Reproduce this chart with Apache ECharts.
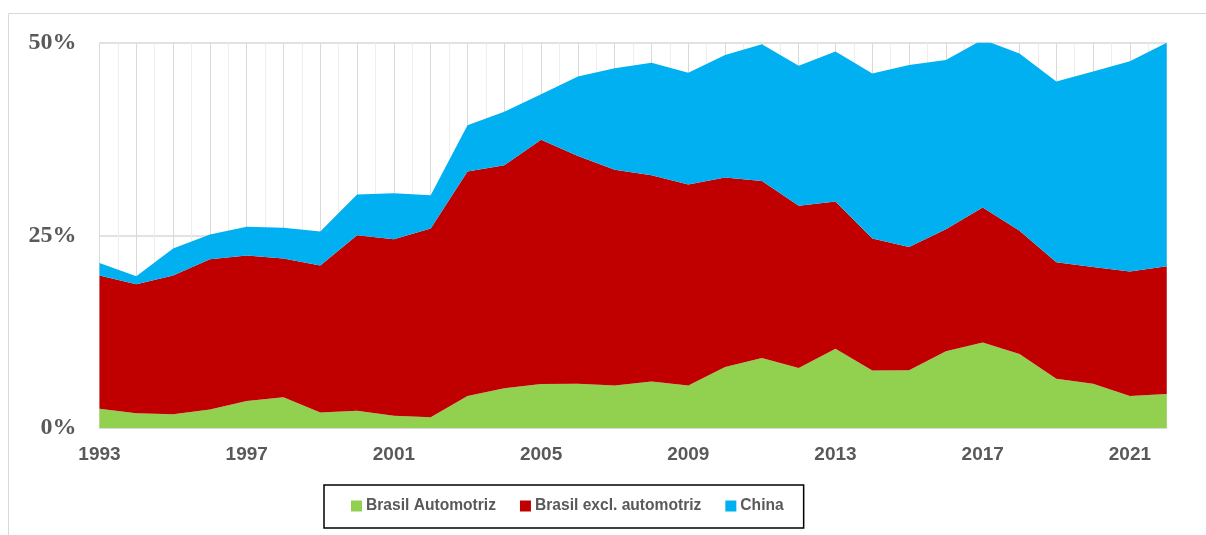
<!DOCTYPE html>
<html>
<head>
<meta charset="utf-8">
<script src="https://cdn.jsdelivr.net/npm/echarts@6/dist/echarts.min.js"></script>
<style>
    html, body { margin: 0; padding: 0; background: #fff; }
</style>
</head>
<body>
<div id="chart" style="width: 1206px; height: 535px"></div>
<script>

// años
const years = ['1993','1994','1995','1996','1997','1998','1999','2000','2001','2002',
    '2003','2004','2005','2006','2007','2008','2009','2010','2011','2012',
    '2013','2014','2015','2016','2017','2018','2019','2020','2021','2022'];

// participación (%)
const brasilAuto = [2.5, 1.9, 1.8, 2.4, 3.5, 4.0, 2.0, 2.25, 1.6, 1.4,
    4.15, 5.15, 5.7, 5.75, 5.5, 6.05, 5.5, 7.9, 9.1, 7.8,
    10.3, 7.45, 7.5, 9.95, 11.1, 9.6, 6.4, 5.75, 4.15, 4.4];

const brasilExcl = [17.3, 16.75, 18.0, 19.5, 18.9, 18.0, 19.1, 22.75, 22.9, 24.5,
    29.15, 28.95, 31.7, 29.55, 28.0, 26.75, 26.1, 24.6, 22.95, 21.05,
    19.1, 17.15, 16.0, 15.85, 17.5, 16.0, 15.1, 15.15, 16.15, 16.6];

const china = [1.6, 1.05, 3.5, 3.2, 3.7, 4.0, 4.4, 5.3, 5.95, 4.3,
    6.0, 6.95, 5.9, 10.3, 13.2, 14.6, 14.5, 15.9, 17.75, 18.15,
    19.45, 21.4, 23.6, 21.95, 21.8, 23.0, 23.45, 25.35, 27.3, 29.0];

const yTicks = [0, 25, 50];

const labelFont = '"Liberation Sans", Arial, sans-serif';

function areaSeries(name, data, color) {
    return {
        name: name,
        type: 'line',
        stack: 'total',
        data: data,
        symbol: 'none',
        lineStyle: { width: 0 },
        areaStyle: { color: color, opacity: 1 },
        itemStyle: { color: color },
        z: 3
    };
}

let option = {
    animation: false,
    graphic: [{
        type: 'rect',
        shape: { x: 8.5, y: 13.5, width: 1300, height: 600 },
        style: { fill: 'none', stroke: '#d9d9d9', lineWidth: 1 },
        z: -10
    }],
    grid: {
        left: 99.5,
        right: 39.3,
        top: 42.7,
        bottom: 107
    },
    xAxis: [
        {
            type: 'category',
            data: years,
            boundaryGap: false,
            axisLine: { lineStyle: { color: '#d9d9d9', width: 1.5 } },
            axisTick: { show: false },
            splitLine: { show: false },
            axisLabel: {
                interval: 3,
                color: '#595959',
                fontFamily: labelFont,
                fontWeight: 'bold',
                fontSize: 19,
                margin: 17
            }
        },
        {
            // solo para la cuadrícula vertical
            type: 'value',
            min: 1993,
            max: 2022,
            interval: 1,
            position: 'bottom',
            axisLine: { show: false },
            axisTick: { show: false },
            axisLabel: { show: false },
            splitLine: { show: true, lineStyle: { color: '#d9d9d9', width: 1 } },
            minorTick: { show: false, splitNumber: 2 },
            minorSplitLine: { show: true, lineStyle: { color: '#eeeeee', width: 1 } }
        }
    ],
    yAxis: {
        type: 'value',
        min: yTicks[0],
        max: yTicks[yTicks.length - 1],
        interval: yTicks[1] - yTicks[0],
        axisLine: { show: false },
        axisTick: { show: false },
        splitLine: { lineStyle: { color: '#d9d9d9', width: 1.5 } },
        axisLabel: {
            formatter: '{value}%',
            color: '#595959',
            fontFamily: '"Liberation Serif", "Times New Roman", serif',
            fontWeight: 'bold',
            fontSize: 24,
            margin: 23
        }
    },
    legend: {
        left: 324,
        top: 485,
        padding: [13, 20, 14, 27],
        borderColor: '#000',
        borderWidth: 1.5,
        itemWidth: 11,
        itemHeight: 11,
        itemGap: 24,
        icon: 'rect',
        textStyle: {
            color: '#595959',
            fontFamily: labelFont,
            fontWeight: 'bold',
            fontSize: 15.6,
            padding: [0, 0, 0, -1]
        },
        data: ['Brasil Automotriz', 'Brasil excl. automotriz', 'China']
    },
    series: [
        areaSeries('Brasil Automotriz', brasilAuto, '#92D050'),
        areaSeries('Brasil excl. automotriz', brasilExcl, '#C00000'),
        areaSeries('China', china, '#00B0F0')
    ]
};

let charts = echarts.init(document.getElementById('chart'));
charts.setOption(option);
</script>
</body>
</html>
